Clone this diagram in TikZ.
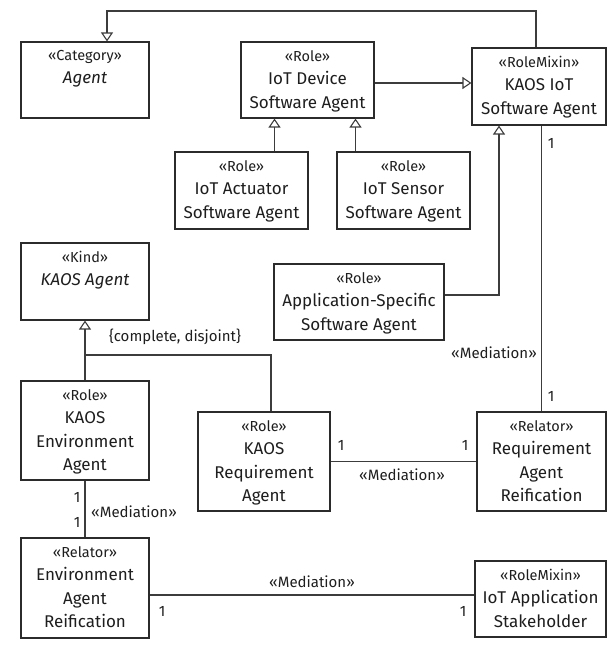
\documentclass[tikz,border=0pt]{standalone}
\usepackage{fontspec}
\setmainfont{Fira Sans}
\usetikzlibrary{arrows.meta, calc, positioning}
\definecolor{rand}{HTML}{2B2B2B}
\definecolor{linie}{HTML}{3C3C3C}
\definecolor{schrift}{HTML}{1E1E1E}
\newcommand{\stereo}[1]{{\fontsize{14.5}{23.5}\selectfont «#1»}}

\begin{document}
\begin{tikzpicture}[
        x=1pt, y=-1pt,
        every node/.style={text=schrift, font=\fontsize{15}{23.5}\selectfont},
        klasse/.style={draw=rand, line width=1.1pt, fill=white, inner sep=0pt},
        klassentext/.style={anchor=north, align=center, inner sep=0pt,
                            font=\fontsize{17}{23.5}\selectfont},
        gen/.style={draw=linie, line width=1.1pt,
                    -{Triangle[open, length=9pt, width=12pt]}},
        assoc/.style={draw=linie, line width=1.1pt},
      ]
      \useasboundingbox (0,0) rectangle (614,650);

      % Klassen: Name / Mitte x / Mitte y / Breite / Hoehe / Stereotyp / Text
      \foreach \n/\cx/\cy/\w/\h/\st/\txt in {
          agent/85/80/128/76/Category/{\textit{Agent}},
          iotdev/307.5/80/133/76/Role/{IoT Device\\Software Agent},
          kiot/539/86.5/134/77/RoleMixin/{KAOS IoT\\Software Agent},
          aktor/241.5/190.5/133/77/Role/{IoT Actuator\\Software Agent},
          sensor/403.5/190.5/133/77/Role/{IoT Sensor\\Software Agent},
          kagent/85/281.5/128/77/Kind/{\textit{KAOS Agent}},
          appsw/359/302/170/76/Role/{Application-Specific\\Software Agent},
          envag/85/430.5/128/99/Role/{KAOS\\Environment\\Agent},
          reqag/264/461.5/132/99/Role/{KAOS\\Requirement\\Agent},
          reqreif/541.5/461.5/129/99/Relator/{Requirement\\Agent\\Reification},
          envreif/85/588/128/100/Relator/{Environment\\Agent\\Reification},
          stakeh/540.5/599/131/76/RoleMixin/{IoT Application\\Stakeholder}} {
        \node[klasse, minimum width=\w pt, minimum height=\h pt] (\n) at (\cx,\cy) {};
        \node[klassentext, below=8.5pt of \n.north] (\n-t) {\stereo{\st}\\\txt};
      }

      % Generalisierungen
      \coordinate (knickL) at (107,11);
      \coordinate (knickR) at (536,11);
      \draw[gen] (kiot.north -| knickR) -- (knickR) -- (knickL) -- (agent.north -| knickL);
      \draw[gen] ([yshift=-3pt]iotdev.east) -- ([yshift=-3pt]iotdev.east -| kiot.west);
      \draw[gen] ([xshift=33pt]aktor.north) -- ([xshift=33pt]aktor.north |- iotdev.south);
      \draw[gen] ([xshift=-48pt]sensor.north) -- ([xshift=-48pt]sensor.north |- iotdev.south);
      \draw[gen] ([yshift=7pt]appsw.east) -| ([xshift=-40pt]kiot.south);
      \draw[gen] (envag.north) -- (kagent.south);
      \coordinate (gsatz) at (85,355);
      \draw[assoc] ([xshift=7pt]reqag.north) |- (gsatz);
      \node (gsatz-l) at (175,337) {\{complete, disjoint\}};

      % Mediationen
      \draw[assoc] (reqreif.north |- kiot.south) -- (reqreif.north);
      \draw[assoc] (envag.south) -- (envreif.north);
      \draw[assoc] (reqag.east) -- (reqreif.west);
      \draw[assoc] ([yshift=4pt]stakeh.west -| envreif.east) -- ([yshift=4pt]stakeh.west);
      \foreach \mx/\my [count=\i] in {494/353, 134/512, 402/475, 312/582} {
        \node (med\i) at (\mx,\my) {«Mediation»};
      }
      % Multiplizitaeten
      \foreach \mx/\my [count=\i] in {551/143, 551/396, 77/497, 77/522,
                                      341/445, 465/445, 162/611, 463/611} {
        \node (eins\i) at (\mx,\my) {1};
      }
    \end{tikzpicture}
\end{document}
